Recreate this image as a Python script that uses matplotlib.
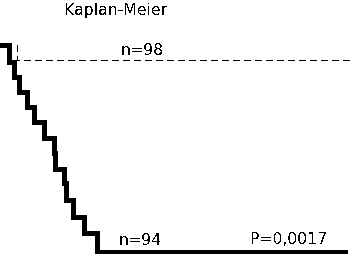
import matplotlib
matplotlib.use("Agg")
import matplotlib.pyplot as plt

# Kaplan-Meier curves, survival in %
t_solid = [0, 9, 14, 19, 27, 34, 44, 54, 55, 64, 66, 73, 84, 97, 345]
s_solid = [100, 91.8, 84.5, 77.3, 70.0, 62.8, 55.1, 47.8, 40.1, 33.3, 25.1, 16.9, 9.2, 0, 0]

t_dash = [17, 17, 351]
s_dash = [100, 92.75, 92.75]

title = "Kaplan-Meier"
label_dash = "n=98"
label_solid = "n=94"
pvalue = "P=0,0017"

plt.rcParams["text.antialiased"] = False

fig = plt.figure(figsize=(3.51, 2.54), dpi=100)
ax = fig.add_axes([0, 0, 1, 1])
ax.step(t_solid, s_solid, where="post", color="black", lw=2.3,
        solid_joinstyle="miter", antialiased=False)
ax.step(t_dash, s_dash, where="post", color="black", lw=0.9,
        linestyle=(0, (5, 3.5)), antialiased=False)

ax.set_xlim(0, 351)
ax.set_ylim(-0.97, 121.7)
ax.axis("off")

fs = 11.3
ax.text(65, 114.5, title, fontsize=fs, va="baseline", ha="left")
ax.text(121, 95.2, label_dash, fontsize=fs, va="baseline", ha="left")
ax.text(119, 3.3, label_solid, fontsize=fs, va="baseline", ha="left")
ax.text(251, 3.8, pvalue, fontsize=fs, va="baseline", ha="left")

fig.savefig("out.png", dpi=100)
